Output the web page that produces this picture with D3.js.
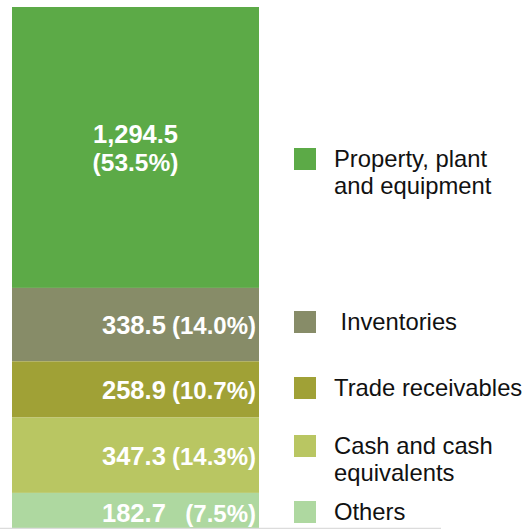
<!DOCTYPE html>
<html>
<head>
<meta charset="utf-8">
<script src="https://cdn.jsdelivr.net/npm/d3@7"></script>
<style>
  html, body { margin: 0; padding: 0; background: #fff; overflow: hidden; }
  svg { display: block; }
  text { font-family: "Liberation Sans", Arial, sans-serif; }
</style>
</head>
<body>
<svg id="chart" width="526" height="529"></svg>
<script>
// ---- data ----
const categories = ["Property, plant\nand equipment", " Inventories", "Trade receivables", "Cash and cash\nequivalents", "Others"];
const values = [1294.5, 338.5, 258.9, 347.3, 182.7];
const valueLabels = ["1,294.5", "338.5", "258.9", "347.3", "182.7"];
const pctLabels = ["(53.5%)", "(14.0%)", "(10.7%)", "(14.3%)", "(7.5%)"];
const colors = ["#5caa47", "#878c68", "#a0a136", "#b9c662", "#aed8a0"];

// ---- layout ----
const legendTop = [148, 311, 377, 435, 501];
const barLeft = 12, barRight = 259, barTop = 7, pxPerUnit = 0.217;

const svg = d3.select("#chart");
const total = d3.sum(values);
const y = d3.scaleLinear().domain([0, total]).range([barTop, barTop + total * pxPerUnit]);

const rows = categories.map((c, i) => ({
  cat: c, v: values[i], vl: valueLabels[i], pl: pctLabels[i], color: colors[i],
  y0: d3.sum(values.slice(0, i)), y1: d3.sum(values.slice(0, i + 1))
}));

// bars
svg.append("g").selectAll("rect").data(rows).join("rect")
  .attr("x", barLeft)
  .attr("width", barRight - barLeft)
  .attr("y", d => y(d.y0))
  .attr("height", d => y(d.y1) - y(d.y0))
  .attr("fill", d => d.color);

// labels
const lab = svg.append("g").attr("fill", "#fff").attr("font-weight", "bold");
rows.forEach((d, i) => {
  const cy = (y(d.y0) + y(d.y1)) / 2;
  if (i === 0) {
    lab.append("text").attr("x", (barLeft + barRight) / 2).attr("y", cy - 4.5)
      .attr("text-anchor", "middle").attr("font-size", 25.5).text(d.vl);
    lab.append("text").attr("x", (barLeft + barRight) / 2).attr("y", cy + 23.5)
      .attr("text-anchor", "middle").attr("font-size", 24.5).text(d.pl);
  } else {
    lab.append("text").attr("x", 102).attr("y", cy + 9.5)
      .attr("font-size", 25.5).text(d.vl);
    lab.append("text").attr("x", 256).attr("y", cy + 9.5)
      .attr("text-anchor", "end").attr("font-size", 24).text(d.pl);
  }
});

// legend
const lg = svg.append("g");
rows.forEach((d, i) => {
  lg.append("rect").attr("x", 294).attr("y", legendTop[i]).attr("width", 22).attr("height", 22).attr("fill", d.color);
  const t = lg.append("text").attr("x", 334).attr("y", legendTop[i] + 19)
    .attr("font-size", 23.8).attr("fill", "#111").style("white-space", "pre");
  d.cat.split("\n").forEach((line, j) => {
    t.append("tspan").attr("x", 334).attr("dy", j === 0 ? 0 : 26.5).text(line);
  });
});

// bottom border line
svg.append("line").attr("x1", 0).attr("x2", 441).attr("y1", 528.5).attr("y2", 528.5)
  .attr("stroke", "#dcdcdc").attr("stroke-width", 1.5);
</script>
</body>
</html>
